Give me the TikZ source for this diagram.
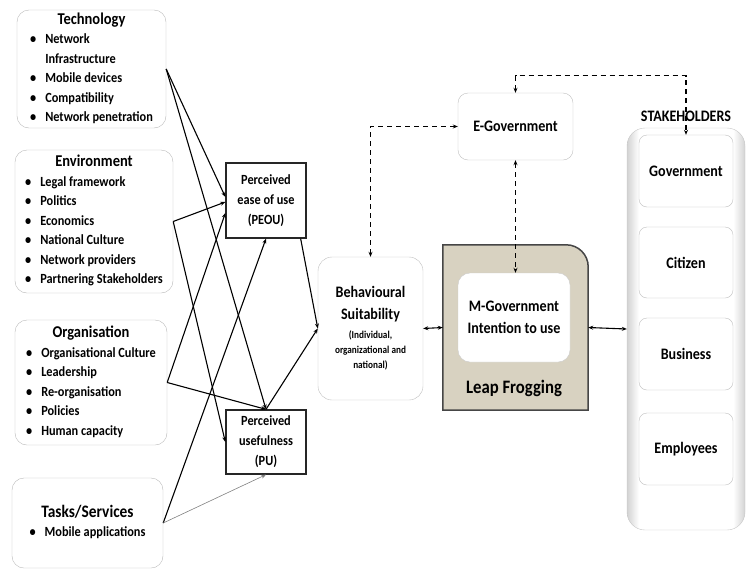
\documentclass[tikz,border=0pt]{standalone}
\usepackage{fontspec}
\setmainfont{Carlito}[FakeStretch=0.88]
\usetikzlibrary{arrows.meta}

\definecolor{leapfill}{RGB}{216,210,193}
\definecolor{leapline}{RGB}{70,70,70}
\pgfdeclarehorizontalshading{stakeshade}{100bp}{color(0bp)=(gray!35); color(25bp)=(gray!35); color(30bp)=(white);
  color(70bp)=(white); color(75bp)=(gray!35); color(100bp)=(gray!35)}

\tikzset{
  factor/.style={draw=gray!55,rounded corners=12pt,inner sep=0pt,font=\fontsize{14}{19.5}\selectfont\bfseries},
  percbox/.style={draw=black!85,line width=1.3pt,inner sep=0pt,align=center,font=\fontsize{14}{20}\selectfont\bfseries},
  softbox/.style={draw=gray!50,rounded corners=10pt,fill=white,inner sep=0pt,align=center,font=\fontsize{16}{22}\selectfont\bfseries},
  infl/.style={line width=1.1pt,->},
  dashlink/.style={line width=1.3pt,dash pattern=on 5pt off 4pt,<->},
}
\newcommand{\ftitle}[1]{\multicolumn{2}{c}{\fontsize{16.5}{20}\selectfont #1}}
\newcommand{\smalltxt}{\fontsize{10.5}{15}\selectfont}

\begin{document}
\begin{tikzpicture}[x=1pt,y=-1pt,>={Stealth[length=5pt,width=4pt]}]
\useasboundingbox (0,0) rectangle (749,573);

% factors
\node[factor,minimum width=149pt,minimum height=118pt] (tech) at (91.5,69) {%
\begin{tabular}{@{}l@{\hspace{9pt}}l@{}}
\ftitle{Technology}\\
\textbullet & Network\\
 & Infrastructure\\
\textbullet & Mobile devices\\
\textbullet & Compatibility\\
\textbullet & Network penetration
\end{tabular}};
\node[factor,minimum width=158pt,minimum height=143pt] (env) at (94,221.5) {%
\begin{tabular}{@{}l@{\hspace{9pt}}l@{}}
\ftitle{Environment}\\
\textbullet & Legal framework\\
\textbullet & Politics\\
\textbullet & Economics\\
\textbullet & National Culture\\
\textbullet & Network providers\\
\textbullet & Partnering Stakeholders
\end{tabular}};
\node[factor,minimum width=152pt,minimum height=125pt] (org) at (91,382.5) {%
\begin{tabular}{@{}l@{\hspace{9pt}}l@{}}
\ftitle{Organisation}\\
\textbullet & Organisational Culture\\
\textbullet & Leadership\\
\textbullet & Re-organisation\\
\textbullet & Policies\\
\textbullet & Human capacity
\end{tabular}};
\node[factor,minimum width=151pt,minimum height=90pt] (tasks) at (87.5,523) {%
\begin{tabular}{@{}l@{\hspace{9pt}}l@{}}
\multicolumn{2}{c}{\fontsize{17.5}{20}\selectfont Tasks/Services}\\
\textbullet & Mobile applications
\end{tabular}};

% TAM
\node[percbox,minimum width=80pt,minimum height=75pt] (peou) at (266,200.5) {Perceived\\ease of use\\(PEOU)};
\node[percbox,minimum width=80pt,minimum height=64pt] (pu) at (266,442) {Perceived\\usefulness\\(PU)};

\draw[infl] (tech.east) -- ([yshift=3.5pt]peou.west);
\draw[infl] (tech.east) -- (pu.north);
\draw[infl] (env.east) -- ([yshift=-1.5pt]peou.west);
\draw[infl] (env.east) -- (pu.west);
\draw[infl] (org.east) -- ([yshift=-12.5pt]peou.west);
\draw[infl] (org.east) -- (pu.north);
\draw[infl] (tasks.east) -- (peou.south);
\draw[->,gray,line width=0.6pt] (tasks.east) -- (pu.south);

% middle
\node[softbox,rounded corners=14pt,minimum width=105pt,minimum height=143pt] (behav) at (370.5,328.5)
  {Behavioural\\Suitability\\[-3pt]\smalltxt(Individual,\\[-7pt]\smalltxt organizational and\\[-7pt]\smalltxt national)};
\draw[infl] ([xshift=-6pt]peou.south east) -- (behav.west);
\draw[infl] (pu.north) -- (behav.west);

\node[minimum width=145pt,minimum height=165pt,inner sep=0pt] (leap) at (515.5,327.5) {};
\draw[leapline,fill=leapfill,line width=1.5pt] (leap.south west) -- (leap.north west)
  -- ([xshift=-22pt]leap.north east) arc[start angle=90,end angle=0,radius=22pt]
  -- (leap.south east) -- cycle;
\node[softbox,draw=gray!40,rounded corners=12pt,minimum width=112pt,minimum height=89pt] (mgov) at (514,317.5) {M-Government\\Intention to use};
\node[font=\fontsize{19}{22}\selectfont\bfseries] (leaplbl) at (514,388) {Leap Frogging};

\node[softbox,minimum width=115pt,minimum height=67pt] (egov) at (515.5,126.5) {E-Government};

% stakeholders
\node[draw=gray!45,rounded corners=18pt,shading=stakeshade,
  minimum width=118pt,minimum height=402pt] (stake) at (686,329) {};
\node[softbox,rounded corners=8pt,minimum width=94pt,minimum height=72pt] (govt) at (686,171) {Government};
\node[softbox,rounded corners=8pt,minimum width=94pt,minimum height=71pt] (citizen) at (686,262.5) {Citizen};
\node[softbox,rounded corners=8pt,minimum width=94pt,minimum height=72pt] (business) at (686,354) {Business};
\node[softbox,rounded corners=8pt,minimum width=94pt,minimum height=72pt] (employees) at (686,449) {Employees};

\draw[dashlink] (egov.north) -- ++(0,-17) -| (govt.north);
\node[font=\fontsize{16}{18}\selectfont\bfseries] (stlabel) at (686,116) {STAKEHOLDERS};

\draw[dashlink] (behav.north) |- (egov.west);
\draw[dashlink] (egov.south) -- (egov.south |- mgov.north);
\draw[<->,line width=1.1pt] (behav.east) -- (leap.west);
\draw[<->,line width=1.1pt] (leap.east) -- (stake.west);
\end{tikzpicture}
\end{document}
